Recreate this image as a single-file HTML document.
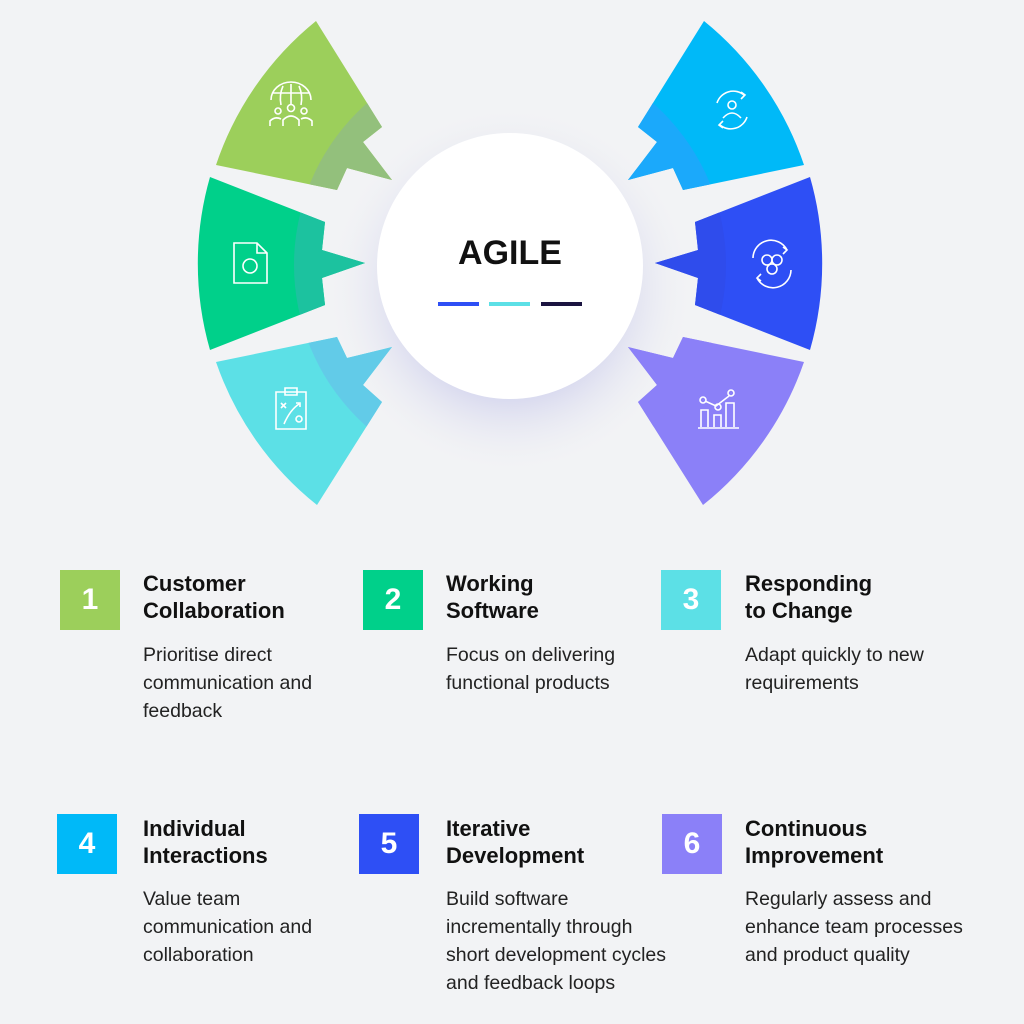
<!DOCTYPE html>
<html><head><meta charset="utf-8"><style>
body{margin:0;width:1024px;height:1024px;background:#f2f3f5;font-family:"Liberation Sans",sans-serif;position:relative;overflow:hidden}
.b{position:absolute;width:60px;height:60px;color:#fff;font-weight:bold;font-size:30px;text-align:center;line-height:60px}
.t{position:absolute;font-weight:bold;font-size:22px;line-height:27px;color:#111}
.d{position:absolute;font-size:19.5px;line-height:28px;color:#222}
</style></head><body>
<svg width="1024" height="520" style="position:absolute;left:0;top:0">
<defs>
<clipPath id="inner"><circle cx="510" cy="265" r="216"/></clipPath>
<radialGradient id="sh" cx="0.5" cy="0.5" r="0.5"><stop offset="0.6" stop-color="#d8d9ef" stop-opacity="0.9"/><stop offset="1" stop-color="#f2f3f5" stop-opacity="0"/></radialGradient>
<g id="p1"><path d="M316,21 A313,313 0 0 0 216,165 L337,190 L347,168 L392,180 L363,142 L382,127 Z"/></g>
<g id="p2"><path d="M210,177 A313,313 0 0 0 210,350 L325,305 L322,278 L365,263 L322,250 L325,222 Z"/></g>
<g id="p3"><path d="M216,362 A313,313 0 0 0 317,505 L382,402 L363,385 L392,347 L347,358 L337,337 Z"/></g>
</defs>
<circle cx="510" cy="290" r="185" fill="url(#sh)"/>
<use href="#p1" fill="#9ccf5b"/><use href="#p1" fill="#93c07c" clip-path="url(#inner)"/>
<use href="#p2" fill="#00d08a"/><use href="#p2" fill="#1cc29f" clip-path="url(#inner)"/>
<use href="#p3" fill="#5ce0e6"/><use href="#p3" fill="#62cbe8" clip-path="url(#inner)"/>
<g transform="translate(1020,0) scale(-1,1)">
<use href="#p1" fill="#00b9f8"/><use href="#p1" fill="#1ba9fb" clip-path="url(#inner)"/>
<use href="#p2" fill="#2e4ff5"/><use href="#p2" fill="#2f4cec" clip-path="url(#inner)"/>
<use href="#p3" fill="#8b80f8"/><use href="#p3" fill="#8b80f8" clip-path="url(#inner)"/>
</g>
<circle cx="510" cy="266" r="133" fill="#fff"/>
<text x="510" y="264" text-anchor="middle" font-family="Liberation Sans" font-weight="bold" font-size="34" fill="#111">AGILE</text>
<rect x="438" y="302" width="41" height="4" fill="#2e4ff5"/>
<rect x="489" y="302" width="41" height="4" fill="#5ce0e6"/>
<rect x="541" y="302" width="41" height="4" fill="#1b1440"/>
<g fill="none" stroke="#fff" stroke-width="1.6">
<!-- icon 1 globe people -->
<path d="M271,100 A20,18 0 0 1 311,100 M273,93 H309 M291,84 V105 M283,86 Q279,95 281,105 M299,86 Q303,95 301,105"/>
<circle cx="291" cy="108" r="3.5"/><circle cx="278" cy="111" r="3"/><circle cx="304" cy="111" r="3"/>
<path d="M283,126 V120 Q291,112 299,120 V126 M270,126 V121 Q275,116 281,119 M312,126 V121 Q307,116 301,119"/>
<!-- icon 2 file gear -->
<path d="M234,243 H257 L267,253 V283 H234 Z M257,243 V253 H267"/>
<circle cx="250" cy="266" r="7"/>
<!-- icon 3 clipboard -->
<path d="M276,392 H306 V429 H276 Z M285,388 H297 V395 H285 Z M281,403 L286,408 M286,403 L281,408 M284,424 Q290,410 299,404 M296,403 H300 V407"/>
<circle cx="299" cy="419" r="3"/>
<!-- icon 4 person cycle -->
<path d="M717,103 A17,17 0 0 1 744,95 M741,92 L745,95 L741,99 M747,117 A17,17 0 0 1 720,125 M723,128 L719,125 L723,121"/>
<circle cx="732" cy="105" r="4"/><path d="M723,118 Q732,108 741,118"/>
<!-- icon 5 hex cycle -->
<path d="M753,258 A18,18 0 0 1 787,250 M783,247 L787,250 L783,254 M791,270 A18,18 0 0 1 757,278 M761,281 L757,278 L761,274"/>
<circle cx="767" cy="260" r="5"/><circle cx="777" cy="260" r="5"/><circle cx="772" cy="269" r="5"/>
<!-- icon 6 chart -->
<path d="M698,428 H739 M701,427 V410 H708 V427 M714,427 V415 H721 V427 M726,427 V403 H734 V427 M705,401 L716,406 L729,396"/>
<circle cx="703" cy="400" r="3"/><circle cx="718" cy="407" r="3"/><circle cx="731" cy="393" r="3"/>
</g>
</svg>

<div class="b" style="left:60px;top:570px;background:#9ccf5b">1</div>
<div class="t" style="left:143px;top:570px">Customer<br>Collaboration</div>
<div class="d" style="left:143px;top:641px">Prioritise direct<br>communication and<br>feedback</div>

<div class="b" style="left:363px;top:570px;background:#00d08a">2</div>
<div class="t" style="left:446px;top:570px">Working<br>Software</div>
<div class="d" style="left:446px;top:641px">Focus on delivering<br>functional products</div>

<div class="b" style="left:661px;top:570px;background:#5ce0e6">3</div>
<div class="t" style="left:745px;top:570px">Responding<br>to Change</div>
<div class="d" style="left:745px;top:641px">Adapt quickly to new<br>requirements</div>

<div class="b" style="left:57px;top:814px;background:#00b9f8">4</div>
<div class="t" style="left:143px;top:815px">Individual<br>Interactions</div>
<div class="d" style="left:143px;top:885px">Value team<br>communication and<br>collaboration</div>

<div class="b" style="left:359px;top:814px;background:#2e4ff5">5</div>
<div class="t" style="left:446px;top:815px">Iterative<br>Development</div>
<div class="d" style="left:446px;top:885px">Build software<br>incrementally through<br>short development cycles<br>and feedback loops</div>

<div class="b" style="left:662px;top:814px;background:#8b80f8">6</div>
<div class="t" style="left:745px;top:815px">Continuous<br>Improvement</div>
<div class="d" style="left:745px;top:885px">Regularly assess and<br>enhance team processes<br>and product quality</div>
</body></html>
